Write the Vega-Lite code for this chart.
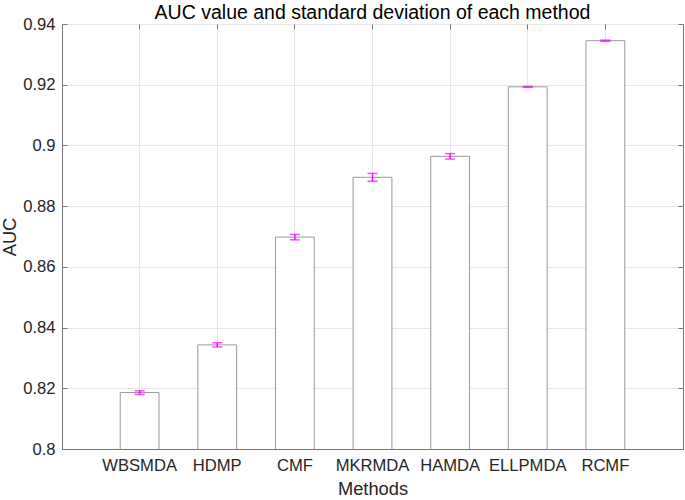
{
  "$schema": "https://vega.github.io/schema/vega-lite/v6.json",
  "width": 621,
  "height": 425,
  "autosize": {"type": "none"},
  "padding": {"left": 62, "top": 24, "right": 2, "bottom": 51},
  "background": "white",
  "title": {
    "text": "AUC value and standard deviation of each method",
    "fontSize": 19.5,
    "font": "Liberation Sans",
    "fontWeight": "normal",
    "color": "#000000",
    "baseline": "bottom",
    "offset": 0,
    "dy": 26,
    "anchor": "middle",
    "frame": "group"
  },
  "data": {
    "values": [
      {"method": "WBSMDA", "auc": 0.8186, "sd": 0.0006},
      {"method": "HDMP", "auc": 0.8343, "sd": 0.0007},
      {"method": "CMF", "auc": 0.8698, "sd": 0.0009},
      {"method": "MKRMDA", "auc": 0.8895, "sd": 0.0013},
      {"method": "HAMDA", "auc": 0.8964, "sd": 0.0009},
      {"method": "ELLPMDA", "auc": 0.9193, "sd": 0.0001},
      {"method": "RCMF", "auc": 0.9345, "sd": 0.0002}
    ]
  },
  "config": {
    "font": "Liberation Sans",
    "view": {"stroke": "#777777", "strokeWidth": 1},
    "axis": {
      "labelFont": "Liberation Sans",
      "titleFont": "Liberation Sans",
      "labelFontSize": 16.6,
      "titleFontSize": 18.3,
      "titleFontWeight": "normal",
      "labelColor": "#262626",
      "titleColor": "#262626",
      "domainColor": "#777777",
      "tickColor": "#777777",
      "gridColor": "#e6e6e6",
      "tickSize": -5
    }
  },
  "layer": [
    {
      "mark": {"type": "bar", "fill": "white", "stroke": "#999999", "strokeWidth": 1, "clip": true},
      "encoding": {
        "x": {
          "field": "method", "type": "nominal", "sort": null,
          "scale": {"paddingInner": 0.5, "paddingOuter": 0.75},
          "axis": {
            "orient": "bottom", "title": "Methods", "labelAngle": 0,
            "grid": true, "bandPosition": 0.5, "labelPadding": 13, "titlePadding": 7
          }
        },
        "y": {
          "field": "auc", "type": "quantitative",
          "scale": {"domain": [0.8, 0.94], "zero": false, "nice": false},
          "axis": {
            "orient": "left", "title": "AUC", "grid": true,
            "values": [0.8, 0.82, 0.84, 0.86, 0.88, 0.9, 0.92, 0.94],
            "format": ".2~f", "labelPadding": 12, "titlePadding": 3
          }
        }
      }
    },
    {
      "mark": {
        "type": "errorbar",
        "color": "#ff00ff",
        "thickness": 1.5,
        "ticks": {"size": 10, "color": "#ff00ff", "strokeWidth": 1.5}
      },
      "encoding": {
        "x": {
          "field": "method", "type": "nominal", "sort": null,
          "axis": {
            "orient": "top", "title": null, "labels": false, "domain": false,
            "grid": false, "bandPosition": 0.5
          }
        },
        "y": {
          "field": "auc", "type": "quantitative",
          "axis": {
            "orient": "right", "title": null, "labels": false, "domain": false, "grid": false,
            "values": [0.8, 0.82, 0.84, 0.86, 0.88, 0.9, 0.92, 0.94]
          }
        },
        "yError": {"field": "sd"}
      }
    }
  ],
  "resolve": {"axis": {"x": "independent", "y": "independent"}}
}
